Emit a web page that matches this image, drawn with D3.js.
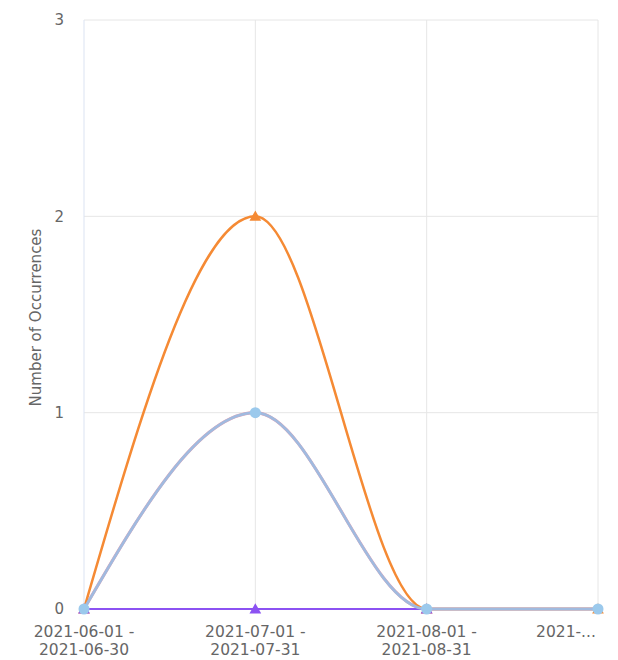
<!DOCTYPE html>
<html>
<head>
<meta charset="utf-8">
<script src="https://cdn.jsdelivr.net/npm/d3@7"></script>
<style>
  body { margin: 0; background: #fff; }
  text { font-family: "DejaVu Sans", sans-serif; fill: #666; }
</style>
</head>
<body>
<div id="chart"></div>
<script>
const categories = ['2021-06', '2021-07', '2021-08', '2021-09'];
const tickLines = [
  ['2021-06-01 -', '2021-06-30'],
  ['2021-07-01 -', '2021-07-31'],
  ['2021-08-01 -', '2021-08-31'],
  ['2021-...']
];
const yTicks = [0, 1, 2, 3];

// series values, in drawing order
const pinkValues = [0, 1, 0, 0];
const blueValues = [0, 1, 0, 0];
const orangeValues = [0, 2, 0, 0];
const purpleValues = [0, 0, 0, null];

const series = [
  { values: pinkValues, line: '#eba2b0', width: 3.1, marker: null },
  { values: orangeValues, line: '#f58a34', width: 2.5, marker: 'triangle', fill: '#f58a34' },
  { values: purpleValues, line: '#8c52f2', width: 2, marker: 'triangle', fill: '#8c52f2' },
  { values: blueValues, line: '#a0badf', width: 2.8, marker: 'circle', fill: '#9bc9ec' }
];

const margin = { top: 20, right: 20, bottom: 51, left: 84 };
const width = 618 - margin.left - margin.right;
const height = 660 - margin.top - margin.bottom;

const svg = d3.select('#chart').append('svg')
  .attr('width', 618)
  .attr('height', 660);

const vis = svg.append('g')
  .attr('transform', 'translate(' + margin.left + ',' + margin.top + ')');

const xScale = d3.scalePoint()
  .domain(categories)
  .range([0, width]);

const yScale = d3.scaleLinear()
  .domain([0, 3])
  .range([height, 0]);

// grid
vis.append('g')
  .selectAll('line')
  .data(yTicks).enter()
    .append('line')
      .attr('x1', 0)
      .attr('x2', width)
      .attr('y1', d => yScale(d))
      .attr('y2', d => yScale(d))
      .attr('stroke', '#e6e6e6');

vis.append('g')
  .selectAll('line')
  .data(categories).enter()
    .append('line')
      .attr('x1', d => xScale(d))
      .attr('x2', d => xScale(d))
      .attr('y1', 0)
      .attr('y2', height)
      .attr('stroke', (d, i) => i === 0 ? '#dbe3f2' : '#e6e6e6');

// y axis
const yAxis = vis.append('g')
  .call(d3.axisLeft(yScale).tickValues(yTicks).tickFormat(d3.format('d')).tickSize(0).tickPadding(20));
yAxis.select('.domain').remove();
yAxis.selectAll('text')
  .style('font-family', '"DejaVu Sans", sans-serif')
  .style('font-size', '15px')
  .style('fill', '#666');

vis.append('text')
  .attr('transform', 'rotate(-90)')
  .attr('x', -(height / 2) - 3)
  .attr('y', -43)
  .attr('text-anchor', 'middle')
  .style('font-size', '15px')
  .text('Number of Occurrences');

// x axis labels
const xLabels = vis.append('g')
  .selectAll('text')
  .data(categories).enter()
    .append('text')
      .attr('x', (d, i) => i === categories.length - 1 ? xScale(d) - 32 : xScale(d))
      .attr('y', height + 28)
      .attr('text-anchor', 'middle')
      .style('font-size', '15.5px');

xLabels.each(function(d, i) {
  let t = d3.select(this);
  tickLines[i].forEach((line, j) => {
    t.append('tspan')
      .attr('x', t.attr('x'))
      .attr('dy', j === 0 ? 0 : 18)
      .text(line);
  });
});

const line = d3.line()
  .defined(d => d.v !== null)
  .x(d => xScale(d.c))
  .y(d => yScale(d.v))
  .curve(d3.curveMonotoneX);

const tri = d3.symbol().type(d3.symbolTriangle).size(60);

// lines first, markers above
series.forEach((s) => {
  let pts = s.values.map((v, i) => ({ c: categories[i], v: v }));
  vis.append('path')
    .datum(pts)
    .attr('fill', 'none')
    .attr('stroke', s.line)
    .attr('stroke-width', s.width)
    .attr('d', line);
});

series.forEach((s) => {
  if (!s.marker) return;
  let pts = s.values
    .map((v, i) => ({ c: categories[i], v: v }))
    .filter(d => d.v !== null);
  if (s.marker === 'triangle') {
    vis.append('g')
      .selectAll('path')
      .data(pts).enter()
        .append('path')
          .attr('d', tri)
          .attr('transform', d => 'translate(' + xScale(d.c) + ',' + (yScale(d.v) + 1) + ')')
          .attr('fill', s.fill);
  } else {
    vis.append('g')
      .selectAll('circle')
      .data(pts).enter()
        .append('circle')
          .attr('cx', d => xScale(d.c))
          .attr('cy', d => yScale(d.v))
          .attr('r', 5.5)
          .attr('fill', s.fill);
  }
});
</script>
</body>
</html>
